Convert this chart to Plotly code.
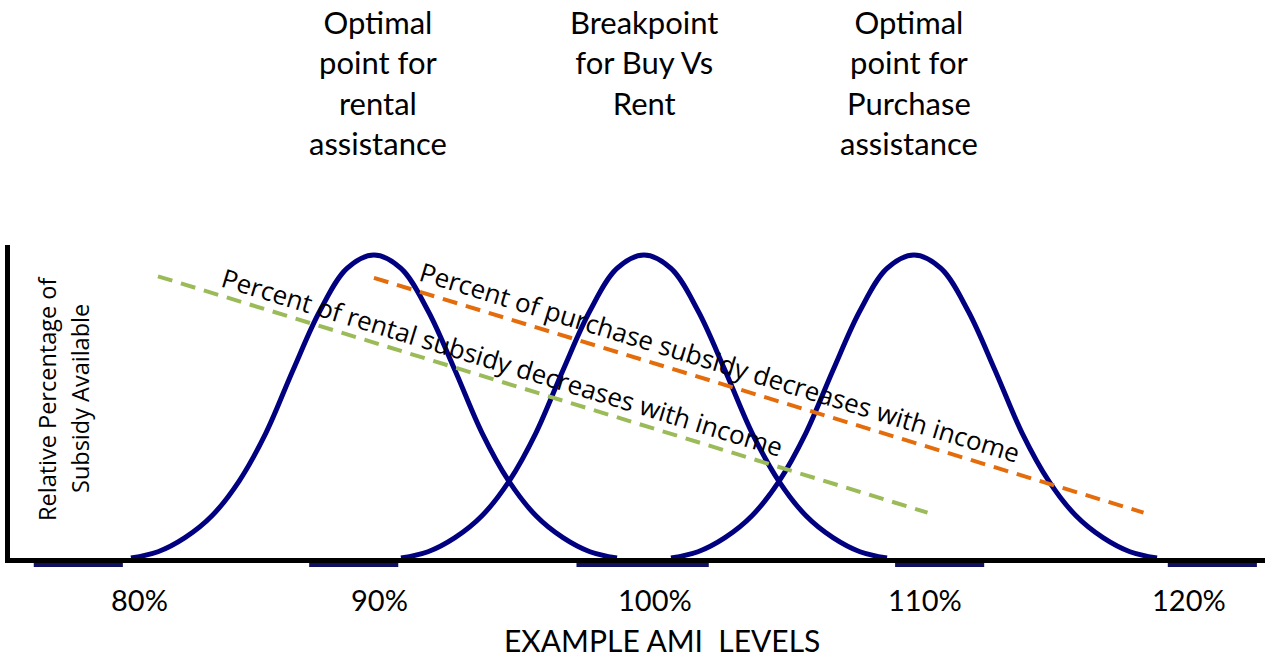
import plotly.graph_objects as go

# --- data -------------------------------------------------------------
# AMI level at which each assistance curve peaks
CENTERS = [90, 100, 110]
# shared bell profile: offset from the peak (AMI points) and relative subsidy share
BELL_OFFSETS = [-9, -8, -7, -6, -5, -4, -3, -2, -1, 0, 1, 2, 3, 4, 5, 6, 7, 8, 9]
BELL_HEIGHTS = [0.0, 0.02, 0.065, 0.135, 0.245, 0.40, 0.60, 0.79, 0.925, 0.968,
                0.925, 0.79, 0.60, 0.40, 0.245, 0.135, 0.065, 0.02, 0.0]

# declining subsidy trend lines (AMI level, relative share)
RENTAL_X = [82.0, 110.5]
RENTAL_Y = [0.90, 0.145]
PURCHASE_X = [90.0, 118.5]
PURCHASE_Y = [0.895, 0.145]

# short bands under the axis (AMI start / end)
BAND_START = [77.4, 87.6, 97.5, 109.3, 119.4]
BAND_END = [80.7, 90.9, 102.4, 112.6, 122.7]

# axis labels along the AMI scale
TICK_POS = [81.3, 90.2, 100.4, 110.4, 120.2]
TICK_TEXT = ["80%", "90%", "100%", "110%", "120%"]

HEADINGS = [
    "Optimal<br>point for<br>rental<br>assistance",
    "Breakpoint<br>for Buy Vs<br>Rent",
    "Optimal<br>point for<br>Purchase<br>assistance",
]
HEADING_SHIFT = [4, 0, -5]

NAVY = "#000080"
GREEN = "#9BBB59"
ORANGE = "#E46C0A"
LABEL_FONT = "Lato, Calibri, Carlito, sans-serif"
NOTE_FONT = "Open Sans, Segoe UI, Noto Sans, sans-serif"

# --- figure geometry (pixels) -----------------------------------------
W, H = 1267, 658
L, R, T, B = 10, 2, 245, 100
PLOT_W = W - L - R
PLOT_H = H - T - B


def px_x(px):
    return (px - L) / PLOT_W


def px_y(py):
    return (H - B - py) / PLOT_H


fig = go.Figure()

for c in CENTERS:
    fig.add_trace(go.Scatter(
        x=[c + o for o in BELL_OFFSETS], y=BELL_HEIGHTS,
        mode="lines", line=dict(color=NAVY, width=5, shape="spline", smoothing=1.0),
        hoverinfo="skip", showlegend=False,
    ))

fig.add_trace(go.Scatter(
    x=RENTAL_X, y=RENTAL_Y, mode="lines",
    line=dict(color=GREEN, width=4, dash="15px,9px"),
    hoverinfo="skip", showlegend=False,
))
fig.add_trace(go.Scatter(
    x=PURCHASE_X, y=PURCHASE_Y, mode="lines",
    line=dict(color=ORANGE, width=4, dash="15px,9px"),
    hoverinfo="skip", showlegend=False,
))

for x0, x1 in zip(BAND_START, BAND_END):
    fig.add_shape(type="line", xref="x", yref="paper", x0=x0, x1=x1,
                  y0=-0.022, y1=-0.022, line=dict(color="#101060", width=4))

annotations = []
for c, txt, sh in zip(CENTERS, HEADINGS, HEADING_SHIFT):
    annotations.append(dict(
        x=c, xref="x", xshift=sh, y=px_y(1), yref="paper", xanchor="center", yanchor="top",
        text=txt, showarrow=False, font=dict(family=LABEL_FONT, size=31, color="black"),
    ))

for pos, txt in zip(TICK_POS, TICK_TEXT):
    annotations.append(dict(
        x=pos, xref="x", y=px_y(599), yref="paper", xanchor="center", yanchor="middle",
        text=txt, showarrow=False, font=dict(family=LABEL_FONT, size=29, color="black"),
    ))

annotations.append(dict(
    x=px_x(662), xref="paper", y=px_y(640), yref="paper", xanchor="center", yanchor="middle",
    text="EXAMPLE AMI\u00a0 LEVELS", showarrow=False,
    font=dict(family=LABEL_FONT, size=30, color="black"),
))

for xp, txt in [(47, "Relative Percentage of"), (80, "Subsidy Available")]:
    annotations.append(dict(
        x=px_x(xp), xref="paper", y=px_y(399), yref="paper", xanchor="center", yanchor="middle",
        text=txt, textangle=-90, showarrow=False,
        font=dict(family=NOTE_FONT, size=23.5, color="black"),
    ))

# labels running along the trend lines
slope_angle = 17
annotations.append(dict(
    x=94.75, xref="x", y=0.626, yref="y", text="Percent of rental subsidy decreases with income",
    textangle=slope_angle, showarrow=False, xanchor="center", yanchor="middle",
    font=dict(family=NOTE_FONT, size=26, color="black"),
))
annotations.append(dict(
    x=102.8, xref="x", y=0.626, yref="y", text="Percent of purchase subsidy decreases with income",
    textangle=slope_angle, showarrow=False, xanchor="center", yanchor="middle",
    font=dict(family=NOTE_FONT, size=26, color="black"),
))

fig.update_layout(
    width=W, height=H,
    margin=dict(l=L, r=R, t=T, b=B),
    paper_bgcolor="white", plot_bgcolor="white",
    annotations=annotations,
    xaxis=dict(range=[76.52, 123.0], showline=True, linewidth=5, linecolor="black",
               showgrid=False, zeroline=False, showticklabels=False, ticks=""),
    yaxis=dict(range=[0, 1], showline=True, linewidth=5, linecolor="black",
               showgrid=False, zeroline=False, showticklabels=False, ticks=""),
)

fig.write_html("out.html")
